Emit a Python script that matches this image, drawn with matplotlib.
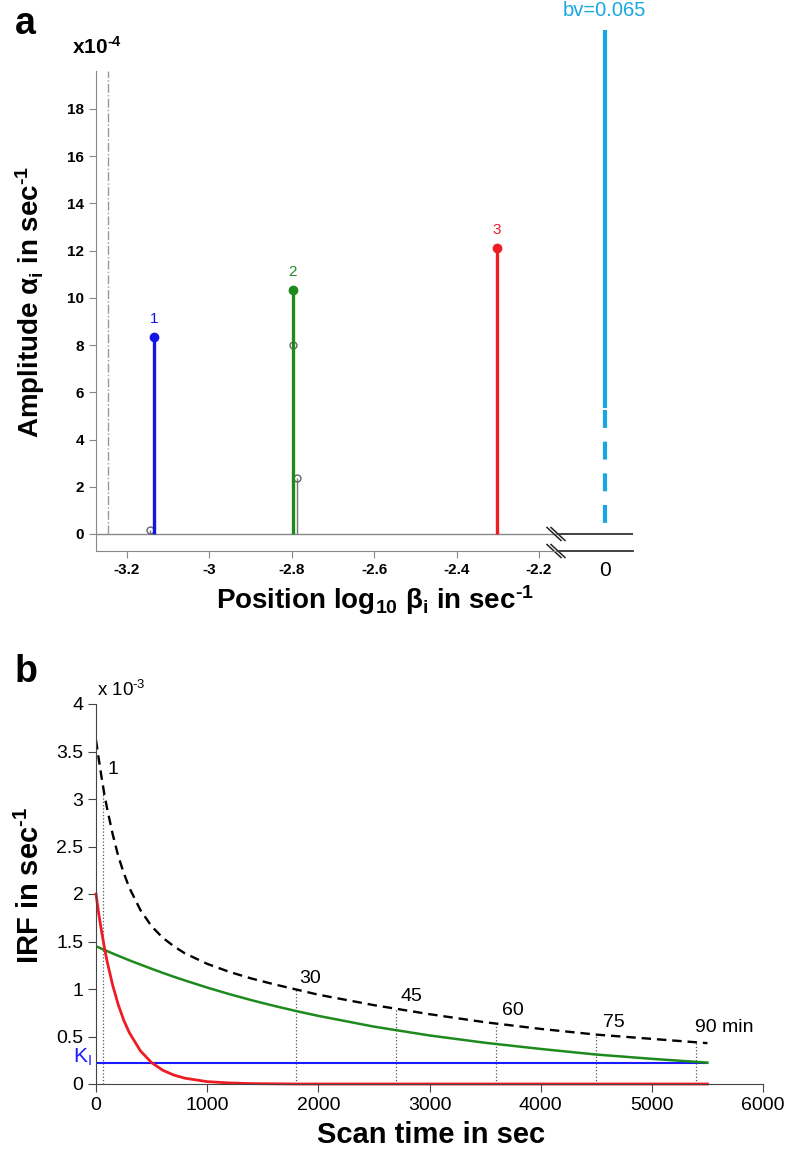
import numpy as np
import matplotlib
matplotlib.use("Agg")
import matplotlib.pyplot as plt

plt.rcParams['font.family'] = ['Liberation Sans', 'DejaVu Sans']
plt.rcParams['mathtext.fontset'] = 'custom'
plt.rcParams['mathtext.rm'] = 'Liberation Sans'
plt.rcParams['mathtext.bf'] = 'Liberation Sans:bold'
plt.rcParams['mathtext.it'] = 'Liberation Sans:italic'
plt.rcParams['axes.unicode_minus'] = False

# ---- panel a: spectral components (amplitude x1e-4 vs log10 beta)
comp_pos = [-3.134, -2.797, -2.302]
comp_amp = [8.35, 10.35, 12.1]
comp_names = ['1', '2', '3']
comp_colors = ['#1414e6', '#1e8a1e', '#ee1c25']

grey_pos = [-3.143, -2.797, -2.788]
grey_amp = [0.15, 8.0, 2.35]

cutoff_pos = -3.246
bv = 0.065
bv_top = 21.35      # truncated drawn height
bv_break = 5.34     # where the solid part turns dashed
bv_bottom = 0.47

xticks_a = [-3.2, -3.0, -2.8, -2.6, -2.4, -2.2]
xtick_labels_a = ['-3.2', '-3', '-2.8', '-2.6', '-2.4', '-2.2']
yticks_a = [0, 2, 4, 6, 8, 10, 12, 14, 16, 18]

# ---- panel b: impulse response functions (x1e-3)
t = [0, 25, 50, 75, 100, 150, 200, 250, 300, 400, 500, 600, 700, 800, 1000,
     1200, 1400, 1600, 1800, 2000, 2500, 3000, 3500, 4000, 4500, 5000, 5500]
irf_total = [3.62, 3.42, 3.23, 3.05, 2.90, 2.63, 2.40, 2.22, 2.065, 1.83, 1.66,
             1.54, 1.45, 1.375, 1.265, 1.18, 1.11, 1.05, 0.995, 0.94, 0.83,
             0.735, 0.65, 0.58, 0.52, 0.475, 0.43]
irf_slow = [1.45, 1.437, 1.424, 1.411, 1.399, 1.374, 1.35, 1.326, 1.302, 1.257,
            1.213, 1.17, 1.129, 1.09, 1.015, 0.946, 0.882, 0.823, 0.768, 0.717,
            0.604, 0.511, 0.434, 0.369, 0.31, 0.265, 0.225]
irf_fast = [2.0, 1.79, 1.61, 1.44, 1.29, 1.04, 0.835, 0.67, 0.54, 0.348, 0.225,
            0.145, 0.094, 0.061, 0.025, 0.011, 0.004, 0.002, 0, 0, 0, 0, 0, 0,
            0, 0, 0]
Ki = 0.224
t_end = 5500
frame_times = [60, 1800, 2700, 3600, 4500, 5400]
frame_labels = ['1', '30', '45', '60', '75', '90 min']

W, H = 788, 1154
fig = plt.figure(figsize=(W / 100, H / 100), dpi=100)

HY = '\u2010'  # short hyphen for superscripts

# ================= panel a =================
ylim_a = (-0.72, 19.6)
ax1 = fig.add_axes([96 / W, 1 - 551 / H, 462 / W, 480 / H])
ax1.set_xlim(-3.275, -2.154)
ax1.set_ylim(*ylim_a)
for s in ['top', 'right']:
    ax1.spines[s].set_visible(False)
for s in ['left', 'bottom']:
    ax1.spines[s].set_color('#888888')
ax1.axhline(0, color='#888888', lw=1)
ax1.set_xticks(xticks_a)
ax1.set_xticklabels(xtick_labels_a)
ax1.set_yticks(yticks_a)
ax1.tick_params(colors='#888888', length=5, labelsize=11, labelcolor='black')
for lab in ax1.get_xticklabels() + ax1.get_yticklabels():
    lab.set_fontweight('bold')

zero_frac = (0 - ylim_a[0]) / (ylim_a[1] - ylim_a[0])
ax1.axvline(cutoff_pos, ymin=zero_frac, color='#999999', lw=1, linestyle='-.')

# grey hollow markers with thin stems
ax1.vlines(grey_pos, 0, grey_amp, color='#777777', lw=1)
ax1.plot(grey_pos, grey_amp, 'o', mfc='none', mec='#666666', ms=5, mew=1)

for p, a, n, c in zip(comp_pos, comp_amp, comp_names, comp_colors):
    ax1.vlines(p, 0, a, color=c, lw=2.4)
    ax1.plot(p, a, 'o', color=c, ms=6)
    ax1.text(p, a + 0.75, n, color=c, ha='center', va='center', fontsize=11)

# broken right part with the bv bar
ax2 = fig.add_axes([558 / W, 1 - 551 / H, 75 / W, 480 / H])
ax2.set_xlim(-1, 0.6)
ax2.set_ylim(*ylim_a)
ax2.patch.set_visible(False)
for s in ['top', 'right', 'left']:
    ax2.spines[s].set_visible(False)
ax2.spines['bottom'].set_color('#333333')
ax2.spines['bottom'].set_linewidth(1.3)
ax2.axhline(0, color='#333333', lw=1.3)
ax2.set_yticks([])
ax2.set_xticks([0])
ax2.set_xticklabels(['0'])
ax2.tick_params(length=0, labelsize=15, pad=7)
ax2.plot([0, 0], [bv_break, bv_top], color='#1aa6e2', lw=3,
         solid_capstyle='butt', clip_on=False)
ax2.plot([0, 0], [bv_break - 0.1, bv_bottom], color='#1aa6e2', lw=3,
         linestyle=(0, (4.3, 3.3)), dash_capstyle='butt')
ax2.text(0, 22.15, f'bv={bv}', color='#1aa6e2', ha='center', va='center',
         fontsize=14.5)

# break marks
dx, dy = 7 / 462, 6.5 / 480
for yf in [0, zero_frac]:
    for off in [-4 / 462, 0]:
        ax1.plot([1 - dx + off, 1 + dx + off], [yf + dy, yf - dy],
                 transform=ax1.transAxes, color='#222222', lw=1.1, clip_on=False)

fig.text(15 / W, 1 - 24 / H, 'a', fontsize=27, fontweight='bold', va='center', ha='left')
fig.text(72 / W, 1 - 47 / H, r'x10$^\mathbf{' + HY + '4}$', fontsize=15, fontweight='bold',
         va='center', ha='left')
fig.text(30 / W, 1 - 302 / H, r'Amplitude α$_\mathbf{i}$ in sec$^\mathbf{' + HY + '1}$',
         fontsize=20, fontweight='bold', rotation=90, ha='center', va='center')
fig.text(375 / W, 1 - 600 / H,
         r'Position log$_\mathbf{10}$ β$_\mathbf{i}$ in sec$^\mathbf{' + HY + '1}$',
         fontsize=20, fontweight='bold', ha='center', va='center')

# ================= panel b =================
ax3 = fig.add_axes([96 / W, 1 - 1084 / H, 667 / W, 380 / H])
ax3.set_xlim(0, 6000)
ax3.set_ylim(0, 4)
for s in ['top', 'right']:
    ax3.spines[s].set_visible(False)
for s in ['left', 'bottom']:
    ax3.spines[s].set_color('#444444')
ax3.set_xticks(range(0, 6001, 1000))
ax3.set_yticks(np.arange(0, 4.01, 0.5))
ax3.set_yticklabels(['0', '0.5', '1', '1.5', '2', '2.5', '3', '3.5', '4'])
ax3.tick_params(axis='both', length=6, labelsize=14, colors='#444444', labelcolor='black')
ax3.tick_params(axis='x', pad=3)
ax3.tick_params(axis='y', pad=3)

tot_at = np.interp(frame_times, t, irf_total)
ax3.vlines(frame_times, 0, tot_at, color='#555555', lw=0.9, linestyles=':')

ax3.plot([0, t_end], [Ki, Ki], color='#1a1aff', lw=1.5)
ax3.plot(t, irf_slow, color='#1e8a1e', lw=1.8)
ax3.plot(t, irf_fast, color='#ee1c25', lw=2, clip_on=False)
ax3.plot(t, irf_total, color='black', lw=1.7, linestyle=(0, (4, 2.5)))

label_pos = [(100, 3.31), (1830, 1.11), (2740, 0.92), (3650, 0.77), (4560, 0.645), (5390, 0.6)]
for (lx, ly), lab in zip(label_pos, frame_labels):
    ax3.text(lx, ly, lab, fontsize=14, ha='left', va='center')

ax3.text(-40, Ki + 0.06, r'K$_\mathrm{I}$', color='#1a1aff', fontsize=15,
         ha='right', va='center')

fig.text(15 / W, 1 - 672 / H, 'b', fontsize=27, fontweight='bold', va='center', ha='left')
fig.text(97 / W, 1 - 690 / H, r'x 10$^{' + HY + '3}$', fontsize=13.5, va='center', ha='left')
fig.text(30 / W, 1 - 885 / H, r'IRF in sec$^\mathbf{' + HY + '1}$', fontsize=21,
         fontweight='bold', rotation=90, ha='center', va='center')
fig.text(431 / W, 1 - 1135 / H, 'Scan time in sec', fontsize=21,
         fontweight='bold', ha='center', va='center')

fig.savefig('out.png', dpi=100)
